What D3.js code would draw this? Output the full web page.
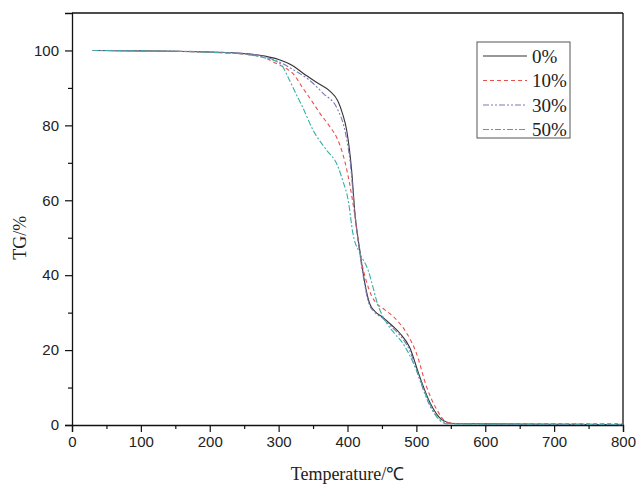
<!DOCTYPE html>
<html>
<head>
<meta charset="utf-8">
<script src="https://cdn.jsdelivr.net/npm/d3@7"></script>
<style>
  body { margin: 0; background: #fff; }
  .tick text { font-family: "Liberation Sans", Arial, sans-serif; font-size: 15px; fill: #222; }
  .axis-label { font-family: "Liberation Serif", "Times New Roman", serif; font-size: 18px; fill: #222; }
  .legend text { font-family: "Liberation Serif", "Times New Roman", serif; font-size: 19px; fill: #222; }
</style>
</head>
<body>
<div id="chart"></div>
<script>
// TG curves: [temperature °C, mass %]
const tg0 = [[30,100],[100,99.9],[200,99.6],[250,99.2],[280,98.5],[300,97.6],[320,96],[335,94],[355,91.5],[374,89.2],[386,86.5],[393,83],[399,78.5],[406,68],[411,56],[418,46.5],[425,38],[432,32.5],[440,30.3],[451,28.8],[465,26.5],[476,24.5],[490,20.8],[505,12.8],[520,5.9],[538,1.3],[553,0.4],[600,0.3],[700,0.2],[800,0.1]];
const tg10 = [[30,100],[100,99.9],[200,99.5],[250,99],[280,98],[297,96.5],[310,95.3],[321,93.8],[335,90],[350,86],[360,83.2],[375,79.5],[385,76.5],[393,72.5],[403,64.5],[411,55.5],[418,46],[428,38],[435,34.5],[442,32.5],[451,31.2],[461,29.8],[475,27.3],[486,24.5],[500,19.2],[515,10.1],[530,4],[544,0.8],[560,0.4],[600,0.4],[700,0.3],[800,0.3]];
const tg30 = [[30,100],[100,99.9],[200,99.6],[250,99.2],[280,98.3],[300,97],[320,95],[345,92],[365,88.5],[385,84.5],[397,78],[404,70],[410,58],[417,47],[424,38.5],[431,32.5],[440,30],[451,28.5],[465,26],[476,24],[490,20],[505,12],[520,5],[535,1.3],[550,0.4],[600,0.3],[700,0.2],[800,0.2]];
const tg50 = [[30,100],[100,99.9],[200,99.5],[250,99],[280,98],[302,96.5],[316,92],[325,88.5],[335,84.8],[350,78.7],[370,73.3],[385,69.5],[393,65.3],[401,60],[408,51],[418,45.8],[430,41.3],[437,36.8],[442,33.3],[457,27.2],[468,24.5],[480,21.9],[500,14.7],[515,7.5],[530,2.1],[544,0.3],[600,0.2],[700,0.2],[800,0.1]];

const seriesNames = ['0%', '10%', '30%', '50%'];
const seriesData = [tg0, tg10, tg30, tg50];
const seriesColors = ['#333333', '#e8504a', '#7a78b8', '#3aaea6'];
const seriesDash = ['none', '4,3', '6,2,2,2,2,2', '6,2,2,2'];

const xTicks = [0, 100, 200, 300, 400, 500, 600, 700, 800];
const yTicks = [0, 20, 40, 60, 80, 100];

const margin = { top: 13, right: 13, bottom: 60, left: 72 };
const width = 636 - margin.left - margin.right;
const height = 485 - margin.top - margin.bottom;

const svg = d3.select('#chart')
  .append('svg')
  .attr('width', 636)
  .attr('height', 485)
  .append('g')
  .attr('transform', `translate(${margin.left}, ${margin.top})`);

const xScale = d3.scaleLinear().domain([0, 800]).range([0, width]);
const yScale = d3.scaleLinear().domain([0, 110]).range([height, 0]);

// minor ticks
svg.append('g')
  .attr('transform', `translate(0, ${height})`)
  .call(d3.axisBottom(xScale).tickValues(d3.range(50, 800, 100)).tickSize(4).tickFormat(''))
  .call(g => g.select('.domain').remove());
svg.append('g')
  .call(d3.axisLeft(yScale).tickValues(d3.range(10, 110, 20)).tickSize(4).tickFormat(''))
  .call(g => g.select('.domain').remove());

// major ticks
svg.append('g')
  .attr('transform', `translate(0, ${height})`)
  .call(d3.axisBottom(xScale).tickValues(xTicks).tickSize(7).tickPadding(4));
svg.append('g')
  .call(d3.axisLeft(yScale).tickValues(yTicks).tickSize(7).tickPadding(6));
svg.selectAll('.domain').attr('stroke', '#111').attr('stroke-width', 1.3);
svg.selectAll('.tick line').attr('stroke', '#111').attr('stroke-width', 1.2);

// frame top & right
svg.append('line').attr('x1', 0).attr('x2', width).attr('y1', 0).attr('y2', 0)
  .attr('stroke', '#111').attr('stroke-width', 1.3);
svg.append('line').attr('x1', width).attr('x2', width).attr('y1', 0).attr('y2', height)
  .attr('stroke', '#111').attr('stroke-width', 1.3);

// curves
const line = d3.line()
  .x(d => xScale(d[0]))
  .y(d => yScale(d[1]))
  .curve(d3.curveMonotoneX);

seriesData.forEach((s, i) => {
  svg.append('path')
    .datum(s)
    .attr('fill', 'none')
    .attr('stroke', seriesColors[i])
    .attr('stroke-width', 1.1)
    .attr('stroke-dasharray', seriesDash[i])
    .attr('d', line);
});

// axis labels
svg.append('text')
  .attr('class', 'axis-label')
  .attr('x', width / 2)
  .attr('y', height + 55)
  .attr('text-anchor', 'middle')
  .text('Temperature/℃');

svg.append('text')
  .attr('class', 'axis-label')
  .attr('transform', `translate(${20 - margin.left}, ${yScale(50)}) rotate(-90)`)
  .attr('text-anchor', 'middle')
  .attr('dy', '0.35em')
  .text('TG/%');

// legend
const legend = svg.append('g')
  .attr('class', 'legend')
  .attr('transform', `translate(${477 - margin.left}, ${42 - margin.top})`);

legend.append('rect')
  .attr('width', 93)
  .attr('height', 96)
  .attr('fill', '#fff')
  .attr('stroke', '#555')
  .attr('stroke-width', 1);

seriesNames.forEach((name, i) => {
  const y = 14 + i * 24.5;
  legend.append('line')
    .attr('x1', 6).attr('x2', 50)
    .attr('y1', y).attr('y2', y)
    .attr('stroke', seriesColors[i])
    .attr('stroke-width', 1.2)
    .attr('stroke-dasharray', seriesDash[i]);
  legend.append('text')
    .attr('x', 55)
    .attr('y', y)
    .attr('dy', '0.35em')
    .text(name);
});
</script>
</body>
</html>
